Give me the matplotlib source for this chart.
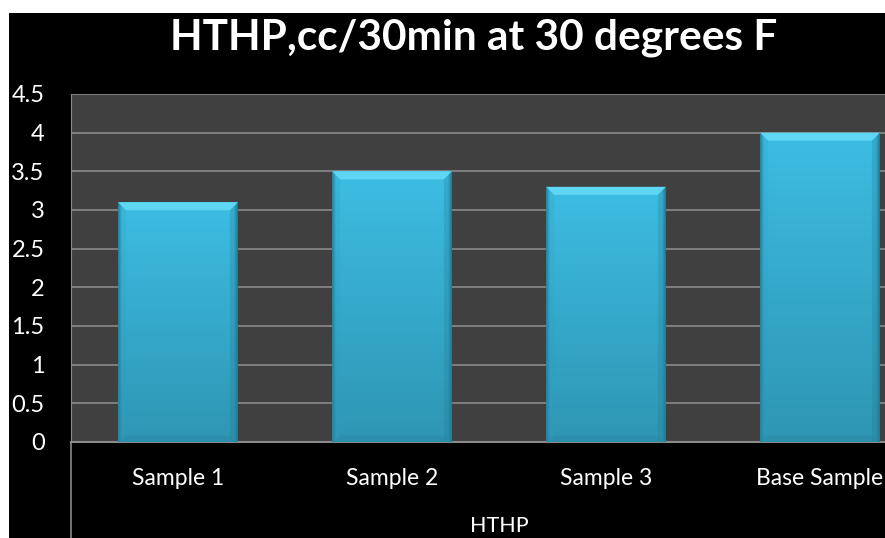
import numpy as np
import matplotlib
matplotlib.use("Agg")
import matplotlib.pyplot as plt
from matplotlib.patches import Rectangle, Polygon
from matplotlib.colors import to_rgb

categories = ["Sample 1", "Sample 2", "Sample 3", "Base Sample"]
values = [3.1, 3.5, 3.3, 4.0]
yticks = [0, 0.5, 1, 1.5, 2, 2.5, 3, 3.5, 4, 4.5]
ytick_labels = ["0", "0.5", "1", "1.5", "2", "2.5", "3", "3.5", "4", "4.5"]
title = "HTHP,cc/30min at 30 degrees F"
xlabel = "HTHP"

plt.rcParams["font.family"] = ["Lato", "DejaVu Sans"]

W, H = 885, 538
fig = plt.figure(figsize=(W / 100, H / 100), dpi=100, facecolor="white")

# black slide background with a thin white margin on the top and left
fig.patches.append(Rectangle((9 / W, 0), 1, (H - 13) / H, transform=fig.transFigure,
                             facecolor="black", edgecolor="none", zorder=-5))

left, right_px, top_px, bottom_px = 71, 927, 94, 442
ax = fig.add_axes([left / W, (H - bottom_px) / H, (right_px - left) / W, (bottom_px - top_px) / H])
ax.set_facecolor("#404040")
ax.set_xlim(-0.5, len(categories) - 0.5)
ax.set_ylim(0, 4.5)
ax.set_yticks(yticks)
ax.set_yticklabels(ytick_labels)
ax.set_xticks(range(len(categories)))
ax.set_xticklabels(categories)
ax.tick_params(axis="both", length=0, colors="white")
ax.tick_params(axis="y", pad=19, labelsize=17)
ax.tick_params(axis="x", pad=19, labelsize=16.5)
ax.grid(axis="y", color="#8a8a8a", linewidth=1.2)
ax.set_axisbelow(True)
for s in ["top", "right"]:
    ax.spines[s].set_visible(False)
ax.spines["bottom"].set_color("#8a8a8a")
ax.spines["bottom"].set_linewidth(1.5)
ax.spines["left"].set_color("#8a8a8a")
ax.set_xlabel(xlabel, color="white", fontsize=15.5, labelpad=19)

# axis line carried down to the bottom of the slide
fig.add_artist(plt.Line2D([left / W, left / W], [0, (H - bottom_px) / H],
                          transform=fig.transFigure, color="#8a8a8a", linewidth=1.2))

bar_w = 0.56
bars = ax.bar(range(len(categories)), values, width=bar_w, color="#3bb7dd",
              edgecolor="none", zorder=2)

# per-pixel data scale for bevel sizes
px_x = (len(categories)) / (right_px - left)
px_y = 4.5 / (bottom_px - top_px)
bev = 8

top_c = np.array(to_rgb("#3dbde3"))
bot_c = np.array(to_rgb("#2e96b3"))
edge_c = np.array(to_rgb("#237e99"))
ny, nx = 200, 120
t = np.linspace(0, 1, ny)[:, None, None]
vert = top_c * (1 - t) + bot_c * t
xs = np.linspace(0, 1, nx)
side = np.clip(np.minimum(xs, 1 - xs) / 0.03, 0, 1)[None, :, None]
img = np.broadcast_to(vert, (ny, nx, 3)) * side + edge_c * (1 - side)

for i, (b, v) in enumerate(zip(bars, values)):
    x0, x1 = b.get_x(), b.get_x() + b.get_width()
    im = ax.imshow(img, extent=[x0, x1, 0, v], aspect="auto", zorder=3,
                   interpolation="bilinear")
    im.set_clip_path(b)
    bx, by = bev * px_x, bev * px_y
    ax.add_patch(Polygon([(x0, v), (x1, v), (x1 - bx, v - by), (x0 + bx, v - by)],
                         closed=True, facecolor="#5fd6f3", edgecolor="none", zorder=4))
    ax.add_patch(Polygon([(x0, v), (x0 + bx, v - by), (x0 + bx, 0), (x0, 0)],
                         closed=True, facecolor="#2f9fc0", edgecolor="none", alpha=0.2, zorder=4))
    ax.add_patch(Polygon([(x1, v), (x1 - bx, v - by), (x1 - bx, 0), (x1, 0)],
                         closed=True, facecolor="#1f7890", edgecolor="none", alpha=0.25, zorder=4))
    ax.add_patch(Polygon([(x0, 0), (x1, 0), (x1 - bx, by * 0.8), (x0 + bx, by * 0.8)],
                         closed=True, facecolor="#2a8aa6", edgecolor="none", alpha=0.5, zorder=4))

fig.text(474 / W, 1 - 38 / H, title, color="white", fontsize=30.5, fontweight="bold",
         ha="center", va="center")

fig.savefig("out.png", dpi=100, facecolor=fig.get_facecolor())
